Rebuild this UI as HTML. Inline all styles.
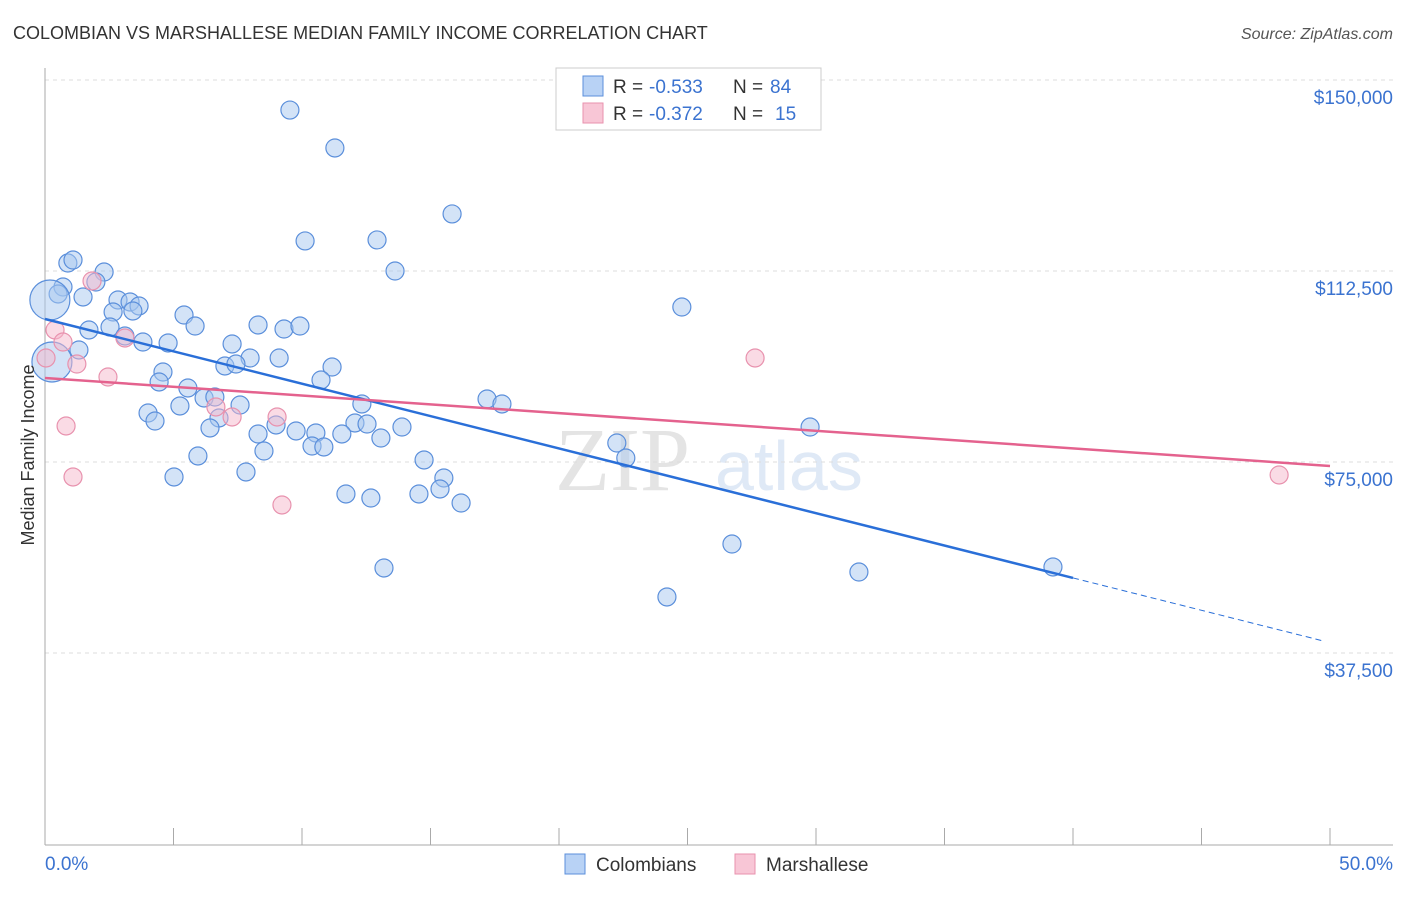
<!DOCTYPE html>
<html><head><meta charset="utf-8"><style>
body{margin:0;background:#fff;font-family:"Liberation Sans",sans-serif;}
</style></head><body>
<svg width="1406" height="892" xmlns="http://www.w3.org/2000/svg" style="font-family:'Liberation Sans',sans-serif">
<text x="13" y="39" font-size="18" fill="#333">COLOMBIAN VS MARSHALLESE MEDIAN FAMILY INCOME CORRELATION CHART</text>
<text x="1393" y="39" font-size="16" fill="#555" font-style="italic" text-anchor="end">Source: ZipAtlas.com</text>
<text x="690" y="490" font-size="90" fill="#e4e4e4" text-anchor="end" font-family="Liberation Serif">ZIP</text>
<text x="715" y="490" font-size="70" fill="#dfe9f6">atlas</text>
<g id="grid"></g>
<g id="axes"></g>
<g id="pts"></g>
<g id="trend"></g>
<text transform="translate(34,455) rotate(-90)" font-size="18" fill="#333" text-anchor="middle">Median Family Income</text>
<g>
<rect x="556" y="68" width="265" height="62" fill="#fff" stroke="#ccc"/>
<rect x="583" y="76" width="20" height="20" fill="#b8d2f5" stroke="#5b8fdb"/>
<text x="613" y="93" font-size="19" fill="#333">R =</text>
<text x="649" y="93" font-size="19" fill="#3b73d0">-0.533</text>
<text x="733" y="93" font-size="19" fill="#333">N =</text>
<text x="770" y="93" font-size="19" fill="#3b73d0">84</text>
<rect x="583" y="103" width="20" height="20" fill="#f8c6d6" stroke="#e892ae"/>
<text x="613" y="120" font-size="19" fill="#333">R =</text>
<text x="649" y="120" font-size="19" fill="#3b73d0">-0.372</text>
<text x="733" y="120" font-size="19" fill="#333">N =</text>
<text x="775" y="120" font-size="19" fill="#3b73d0">15</text>
</g>
<g>
<rect x="565" y="854" width="20" height="20" fill="#b8d2f5" stroke="#5b8fdb"/>
<text x="596" y="871" font-size="19" fill="#333">Colombians</text>
<rect x="735" y="854" width="20" height="20" fill="#f8c6d6" stroke="#e892ae"/>
<text x="766" y="871" font-size="19" fill="#333">Marshallese</text>
</g>
</svg>
<script>
const yTicks=[37500,75000,112500,150000];
const yTickLabels=["$37,500","$75,000","$112,500","$150,000"];
const colX=[9.53,11.28,15.84,10.12,12.92,13.62,0.89,1.09,2.30,1.98,0.70,0.51,0.19,1.48,2.84,3.31,3.66,2.65,3.42,5.41,5.84,2.53,1.71,3.11,3.81,4.79,8.29,9.30,9.92,7.28,1.32,7.98,9.11,7.00,7.43,11.17,4.59,4.44,10.74,5.56,6.19,6.61,7.59,12.33,17.20,17.78,4.01,4.28,5.25,6.77,6.42,8.99,9.77,10.54,12.06,12.53,8.29,11.55,13.07,13.89,10.39,10.85,8.52,5.95,14.75,22.25,22.60,29.77,24.78,5.02,7.82,15.52,15.37,11.71,12.68,14.55,16.19,13.19,26.73,24.20,31.67,39.22,0.27];
const colY=[144100,136650,123700,118400,118600,112500,114070,114660,112300,110340,109360,107990,106810,107400,106810,106420,105630,104450,104650,103860,101700,101500,100920,99740,98560,98370,101900,101110,101700,98170,96990,95420,95420,93850,94240,93650,92670,90710,91100,89530,87570,87760,86190,86390,87370,86390,84620,83050,86000,83640,81680,82270,81090,80700,82660,82460,80500,80500,79710,81870,78140,77950,77160,76180,75400,78730,75790,81870,105430,72060,73040,71860,69700,68720,67930,68720,66950,54190,58900,48500,53400,54390,94640];
const colBig=[12,82];
const marX=[1.83,0.39,0.70,1.24,2.45,3.11,0.82,1.09,6.65,7.28,9.03,9.22,27.63,48.02,0.04];
const marY=[110540,100920,98560,94240,91690,99350,82070,72060,85800,83840,83840,66560,95420,72450,95420];
const colTrend=[103080,39530];
const colSolidEnd=40;
const marTrend=[91500,74220];
const NS="http://www.w3.org/2000/svg";
const X=v=>45+v/50*1285;
const Y=v=>844-v/37500*191;
function mk(tag,attrs,parent){const e=document.createElementNS(NS,tag);for(const k in attrs)e.setAttribute(k,attrs[k]);document.getElementById(parent).appendChild(e);return e;}
yTicks.forEach((t,i)=>{
 const g=mk('line',{x1:45,x2:1393,y1:Y(t),y2:Y(t),stroke:'#ddd','stroke-dasharray':'4,4'},'grid');
 
 
 const tx=mk('text',{x:1393,y:Y(t)+24,'text-anchor':'end','font-size':19,fill:'#3b73d0'},'grid');
 tx.textContent=yTickLabels[i];
 
 
});
const topLine=mk('line',{x1:45,x2:1393,y1:80,y2:80,stroke:'#ddd','stroke-dasharray':'4,4'},'grid');


const ya=mk('line',{x1:45,x2:45,y1:68,y2:845,stroke:'#aaa'},'axes');


const xa=mk('line',{x1:45,x2:1393,y1:845,y2:845,stroke:'#aaa'},'axes');


for(let i=0;i<=10;i++){const t=mk('line',{x1:X(i*5),x2:X(i*5),y1:828,y2:845,stroke:'#aaa'},'axes');
 
 }
const l0=mk('text',{x:45,y:870,'font-size':19,fill:'#3b73d0'},'axes');l0.textContent='0.0%';


const l1=mk('text',{x:1393,y:870,'font-size':19,fill:'#3b73d0','text-anchor':'end'},'axes');l1.textContent='50.0%';


colX.forEach((v,i)=>{const c=mk('circle',{cx:X(v),cy:Y(colY[i]),r:colBig.includes(i)?20:9,fill:'rgba(168,200,240,0.5)',stroke:'#5b8fdb','stroke-width':1.2},'pts');
 
 });
marX.forEach((v,i)=>{const c=mk('circle',{cx:X(v),cy:Y(marY[i]),r:9,fill:'rgba(245,184,204,0.5)',stroke:'#e892ae','stroke-width':1.2},'pts');
 
 });
const cy=x=>colTrend[0]+(colTrend[1]-colTrend[0])*x/50;
const b1=mk('line',{x1:X(0),y1:Y(cy(0)),x2:X(colSolidEnd),y2:Y(cy(colSolidEnd)),stroke:'#2a6fd8','stroke-width':2.5},'trend');


const b2=mk('line',{x1:X(colSolidEnd),y1:Y(cy(colSolidEnd)),x2:X(49.8),y2:Y(cy(49.8)),stroke:'#2a6fd8','stroke-width':1,'stroke-dasharray':'6,4'},'trend');


const p1=mk('line',{x1:X(0),y1:Y(marTrend[0]),x2:X(50),y2:Y(marTrend[1]),stroke:'#e4628e','stroke-width':2.5},'trend');


</script>
</body></html>
